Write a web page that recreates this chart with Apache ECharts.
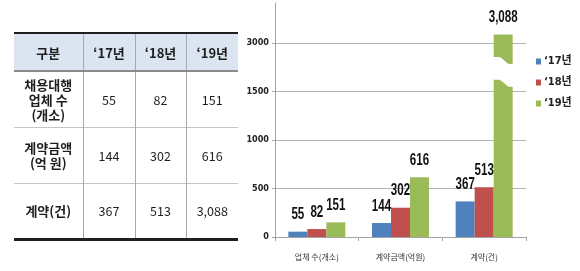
<!DOCTYPE html>
<html>
<head>
<meta charset="utf-8">
<script src="https://cdn.jsdelivr.net/npm/echarts@6/dist/echarts.min.js"></script>
<style>
  html, body { margin: 0; padding: 0; background: #fff; }
  #wrap { position: relative; width: 580px; height: 271px; overflow: hidden; background: #fff; }
  #chart { position: absolute; left: 0; top: 0; width: 580px; height: 271px; }
  #tbl { position: absolute; left: 14px; top: 32px; z-index: 2; }
  table { border-collapse: collapse; table-layout: fixed; font-family: 'Noto Sans CJK KR', 'Noto Sans', sans-serif; color: #1e1e1e; }
  th, td { text-align: center; vertical-align: middle; padding: 0; border-left: 1px solid #a8a8a8; }
  th:first-child, td:first-child { border-left: none; }
  thead tr { background: #dbe5f1; height: 38px; border-top: 2px solid #1f1f1f; border-bottom: 2px solid #8a8a8a; }
  thead th { font-size: 13px; font-weight: bold; }
  tbody tr { height: 56px; border-bottom: 1px solid #c4c4c4; }
  tbody tr:last-child { border-bottom: 3px solid #1f1f1f; }
  tbody td { font-size: 12.5px; }
  tbody td.head { font-size: 13px; font-weight: bold; line-height: 15px; }
</style>
</head>
<body>
<div id="wrap">
  <div id="chart"></div>
  <div id="tbl"></div>
</div>
<script>
// ---- data ----
const categories = ['업체 수(개소)', '계약금액(억원)', '계약(건)'];
const seriesNames = ['‘17년', '‘18년', '‘19년'];
const values17 = [55, 144, 367];
const values18 = [82, 302, 513];
const values19 = [151, 616, 3088];
const yTickLabels = [0, 500, 1000, 1500, 3000];
const tableHeader = ['구분', '‘17년', '‘18년', '‘19년'];
const tableRowHeads = [['채용대행', '업체 수', '(개소)'], ['계약금액', '(억 원)'], ['계약(건)']];

// ---- broken axis: 1500..3000 compressed into one 500-step slot ----
const breakStart = 1500, breakEnd = 3000, breakSlot = 500;
function toAxis(v) {
  if (v <= breakStart) return v;
  if (v >= breakEnd) return breakStart + breakSlot + (v - breakEnd);
  return breakStart + (v - breakStart) * breakSlot / (breakEnd - breakStart);
}
function fromAxis(a) {
  if (a <= breakStart) return a;
  if (a >= breakStart + breakSlot) return breakEnd + (a - breakStart - breakSlot);
  return breakStart + (a - breakStart) * (breakEnd - breakStart) / breakSlot;
}

// ---- table ----
(function buildTable() {
  const cols = [69, 52, 51, 52];
  const rowsVals = [values17, values18, values19];
  let h = '<table><colgroup>' + cols.map(w => '<col style="width:' + w + 'px">').join('') + '</colgroup>';
  h += '<thead><tr>' + tableHeader.map(t => '<th>' + t + '</th>').join('') + '</tr></thead><tbody>';
  tableRowHeads.forEach((lines, i) => {
    h += '<tr><td class="head">' + lines.join('<br>') + '</td>';
    rowsVals.forEach(arr => { h += '<td>' + arr[i].toLocaleString('en-US') + '</td>'; });
    h += '</tr>';
  });
  h += '</tbody></table>';
  document.getElementById('tbl').innerHTML = h;
})();

// ---- chart ----
const colors = ['#4f81bd', '#c0504d', '#9bbb59'];
const rawSeries = [values17, values18, values19];
const barW = 19;
const numFont = "'Liberation Sans Narrow', 'DejaVu Sans Condensed', 'Noto Sans CJK KR', sans-serif";

const chart = echarts.init(document.getElementById('chart'), null, { renderer: 'canvas' });

const barSeries = rawSeries.map((arr, si) => ({
  name: seriesNames[si],
  type: 'bar',
  data: arr.map(toAxis),
  barWidth: barW,
  barGap: '0%',
  itemStyle: { color: colors[si] }
}));

const barOffset = si => (si - (rawSeries.length - 1) / 2) * barW;

// value labels (condensed bold), placed through the axis scales
const labelItems = [];
rawSeries.forEach((arr, si) => arr.forEach((v, ci) => labelItems.push([ci, si])));
const labelSeries = {
  type: 'custom',
  name: 'labels',
  silent: true,
  z: 12,
  clip: false,
  data: labelItems,
  renderItem: function (params, api) {
    const ci = api.value(0), si = api.value(1);
    const raw = rawSeries[si][ci];
    const p = api.coord([ci, toAxis(raw)]);
    return {
      type: 'text',
      x: p[0] + barOffset(si),
      y: p[1] - 17,
      scaleX: 0.7,
      style: {
        text: raw.toLocaleString('en-US'),
        fontFamily: "'Liberation Sans', Arial, sans-serif",
        fontWeight: 'bold',
        fontSize: 16.5,
        fill: '#111',
        align: 'center',
        verticalAlign: 'middle'
      }
    };
  }
};

// break mark on bars that cross the broken range
const breakIdx = [];
rawSeries.forEach((arr, si) => arr.forEach((v, i) => { if (v > breakEnd) breakIdx.push([i, si]); }));

const breakSeries = {
  type: 'custom',
  name: 'break',
  silent: true,
  z: 10,
  clip: false,
  data: breakIdx,
  renderItem: function (params, api) {
    const ci = api.value(0), si = api.value(1);
    const c = api.coord([ci, toAxis(breakStart) + 355]);
    const b = api.coord([ci, toAxis(breakStart) + 120]);
    const x0 = c[0] + barOffset(si) - barW / 2 - 1.5, w = barW + 3;
    const drop = 7, N = 16;
    const pts = [];
    const s = t => { let u = Math.min(1, Math.max(0, (t - 0.3) / 0.5)); return u * u * (3 - 2 * u); };
    for (let i = 0; i <= N; i++) { const t = i / N; pts.push([x0 + t * w, c[1] + s(t) * drop]); }
    for (let i = N; i >= 0; i--) { const t = i / N; pts.push([x0 + t * w, b[1] + s(t) * drop]); }
    return { type: 'polygon', shape: { points: pts }, style: { fill: '#ffffff', stroke: null } };
  }
};

chart.setOption({
  animation: false,
  backgroundColor: 'transparent',
  grid: { left: 275, right: 54, top: 3, bottom: 34, containLabel: false, outerBoundsMode: 'none' },
  legend: {
    data: seriesNames,
    orient: 'vertical',
    left: 531,
    top: 51,
    itemWidth: 5,
    itemHeight: 6,
    itemGap: 10,
    icon: 'rect',
    textStyle: { fontFamily: numFont, fontWeight: 'bold', fontSize: 11, color: '#222', padding: [0, 0, 0, -2] }
  },
  xAxis: {
    type: 'category',
    data: categories,
    axisLine: { lineStyle: { color: '#a3a3a3' } },
    axisTick: { show: true, length: 4, lineStyle: { color: '#a3a3a3' } },
    axisLabel: { fontFamily: "'Noto Sans CJK KR', sans-serif", fontSize: 8, color: '#333', margin: 16 }
  },
  yAxis: {
    type: 'value',
    min: 0,
    max: 2412,
    interval: 500,
    axisLine: { show: true, lineStyle: { color: '#a3a3a3' } },
    axisTick: { show: true, length: 3, lineStyle: { color: '#a3a3a3' } },
    axisLabel: {
      fontFamily: numFont, fontWeight: 'bold', fontSize: 9, color: '#222', margin: 6,
      showMaxLabel: false,
      formatter: v => { const r = Math.round(fromAxis(v)); return yTickLabels.includes(r) ? String(r) : ''; }
    },
    splitLine: { show: true, showMinLine: false, showMaxLine: false, lineStyle: { color: '#b3b3b3' } }
  },
  series: barSeries.concat([breakSeries, labelSeries])
});
</script>
</body>
</html>
